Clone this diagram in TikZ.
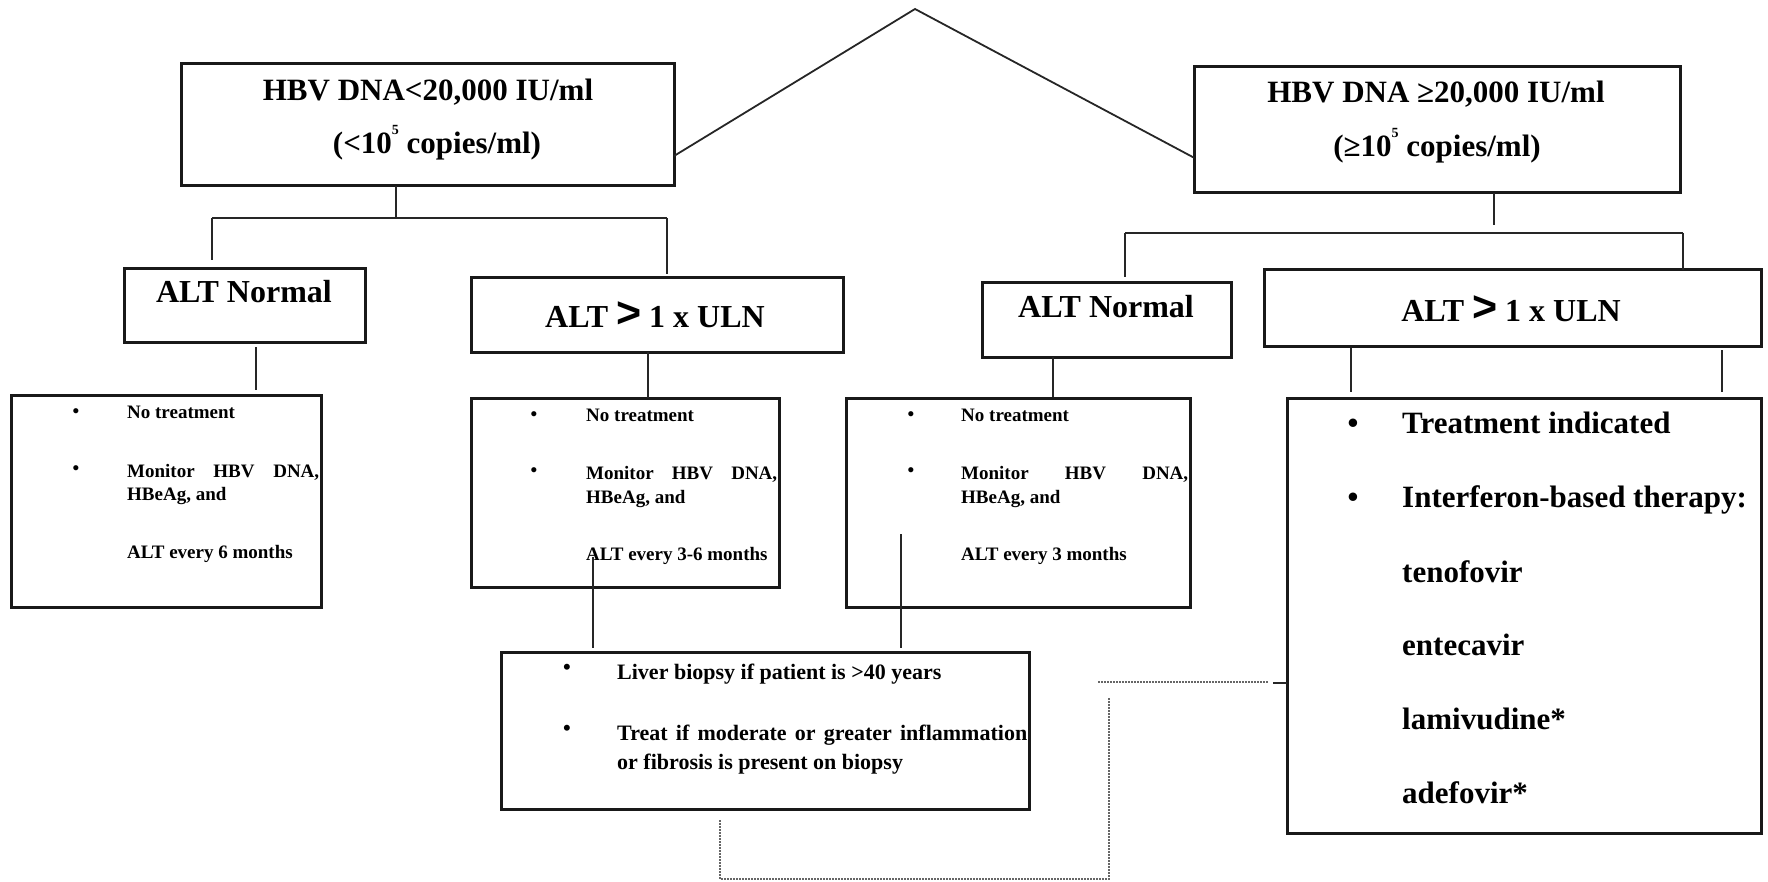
\documentclass[tikz,border=0pt]{standalone}
\usepackage{fontspec}
\setmainfont{Liberation Serif}
\setsansfont{Liberation Sans}
\usetikzlibrary{calc}
\newcommand{\bigGt}{{\sffamily\bfseries\fontsize{43}{43}\selectfont >}}
\newcommand{\supfive}{\raisebox{19pt}{\fontsize{14}{14}\selectfont 5}}
\begin{document}
\begin{tikzpicture}[x=1pt,y=-1pt,
  box/.style={draw=black!90, line width=3pt, inner sep=0pt, outer sep=0pt, anchor=north west},
  conn/.style={draw=black!85, line width=1.8pt},
  dots/.style={draw=black!60, line width=1.8pt, dash pattern=on 1.6pt off 1.4pt},
  big/.style={font=\fontsize{31}{36}\selectfont\bfseries, inner sep=0pt, anchor=base},
  alt/.style={font=\fontsize{32}{36}\selectfont\bfseries, inner sep=0pt, anchor=base},
  small/.style={font=\fontsize{19}{22}\selectfont\bfseries, inner sep=0pt, anchor=base west},
  mid/.style={font=\fontsize{22}{26}\selectfont\bfseries, inner sep=0pt, anchor=base west},
  large/.style={font=\fontsize{31}{36}\selectfont\bfseries, inner sep=0pt, anchor=base west},
  bul/.style={inner sep=0pt, anchor=base}
]
\useasboundingbox (0,0) rectangle (1768,882);

% boxes
\node[box, minimum width=493pt, minimum height=122pt] (b1) at (181,64) {};
\node[box, minimum width=486pt, minimum height=126pt] (b2) at (1194,67) {};
\node[box, minimum width=241pt, minimum height=73pt] (an1) at (124,269) {};
\node[box, minimum width=372pt, minimum height=74pt] (ag1) at (471,278) {};
\node[box, minimum width=249pt, minimum height=74pt] (an2) at (982,283) {};
\node[box, minimum width=497pt, minimum height=76pt] (ag2) at (1264,270) {};
\node[box, minimum width=310pt, minimum height=212pt] (bA) at (11,395) {};
\node[box, minimum width=308pt, minimum height=189pt] (bB) at (471,398) {};
\node[box, minimum width=344pt, minimum height=209pt] (bC) at (846,398) {};
\node[box, minimum width=474pt, minimum height=435pt] (bD) at (1287,398) {};
\node[box, minimum width=528pt, minimum height=157pt] (bE) at (501,652) {};

% top texts
\node[big] (t1a) at (428,101) {HBV DNA<20,000 IU/ml};
\node[big] (t1b) at (437,154) {(<10\supfive{} copies/ml)};
\node[big] (t2a) at (1436,103) {HBV DNA ≥20,000 IU/ml};
\node[big] (t2b) at (1437,157) {(≥10\supfive{} copies/ml)};
\node[alt] (tn1) at (244,303) {ALT Normal};
\node[alt] (tg1) at (655,327) {ALT \bigGt{} 1 x ULN};
\node[alt] (tn2) at (1106,317) {ALT Normal};
\node[alt] (tg2) at (1511,322) {ALT \bigGt{} 1 x ULN};

% box A
\node[small,bul] (aB1) at (76,417) {•};
\node[small] (a1) at (127,418) {No treatment};
\node[small,bul] (aB2) at (76,474) {•};
\node[small] (a2) at (127,477) {\hbox to 192pt{Monitor\hfill HBV\hfill DNA,}};
\node[small] (a3) at (127,500) {HBeAg, and};
\node[small] (a4) at (127,558) {ALT every 6 months};

% box B
\node[small,bul] (bB1) at (534,420) {•};
\node[small] (b1t) at (586,421) {No treatment};
\node[small,bul] (bB2) at (534,476) {•};
\node[small] (b2t) at (586,479) {\hbox to 191pt{Monitor\hfill HBV\hfill DNA,}};
\node[small] (b3t) at (586,503) {HBeAg, and};
\node[small] (b4t) at (586,560) {ALT every 3-6 months};

% box C
\node[small,bul] (cB1) at (911,420) {•};
\node[small] (c1) at (961,421) {No treatment};
\node[small,bul] (cB2) at (911,476) {•};
\node[small] (c2) at (961,479) {\hbox to 227pt{Monitor\hfill HBV\hfill DNA,}};
\node[small] (c3) at (961,503) {HBeAg, and};
\node[small] (c4) at (961,560) {ALT every 3 months};

% box E
\node[mid,bul] (eB1) at (567,674) {•};
\node[mid] (e1) at (617,679) {Liver biopsy if patient is >40 years};
\node[mid,bul] (eB2) at (567,735) {•};
\node[mid] (e2) at (617,740) {\hbox to 410pt{Treat\hfill if\hfill moderate\hfill or\hfill greater\hfill inflammation}};
\node[mid] (e3) at (617,769) {or fibrosis is present on biopsy};

% box D
\node[large,bul] (dB1) at (1353,433) {•};
\node[large] (d1) at (1402,433) {Treatment indicated};
\node[large,bul] (dB2) at (1353,507) {•};
\node[large] (d2) at (1402,507) {Interferon-based therapy:};
\node[large] (d3) at (1402,582) {tenofovir};
\node[large] (d4) at (1402,655) {entecavir};
\node[large] (d5) at (1402,729) {lamivudine*};
\node[large] (d6) at (1402,803) {adefovir*};

% apex lines
\coordinate (apex) at (915,9);
\draw[conn] ($(b1.north east)!0.754!(b1.south east)$) -- (apex) -- ($(b2.north west)!0.72!(b2.south west)$);

% left tree
\coordinate (j1) at (396,218);
\coordinate (j1l) at (212,218);
\coordinate (j1r) at (667,218);
\draw[conn] (b1.south -| j1) -- (j1);
\draw[conn] (j1l) -- (j1r);
\draw[conn, shorten >=9pt] (j1l) -- (an1.north -| j1l);
\draw[conn, shorten >=4pt] (j1r) -- (ag1.north -| j1r);

% right tree
\coordinate (k1) at (1494,225);
\coordinate (k1l) at (1125,233);
\coordinate (k1r) at (1683,233);
\draw[conn] (b2.south -| k1) -- (k1);
\draw[conn] (k1l) -- (k1r);
\draw[conn, shorten >=6pt] (k1l) -- (an2.north -| k1l);
\draw[conn] (k1r) -- (ag2.north -| k1r);

% down links
\coordinate (vA) at (256,0);
\coordinate (vB) at (648,0);
\coordinate (vC) at (1053,0);
\coordinate (vD1) at (1351,0);
\coordinate (vD2) at (1722,0);
\coordinate (vBE) at (593,557);
\coordinate (vCE) at (901,534);
\draw[conn, shorten <=5pt, shorten >=5pt] (an1.south -| vA) -- (bA.north -| vA);
\draw[conn] (ag1.south -| vB) -- (bB.north -| vB);
\draw[conn, shorten >=1pt] (an2.south -| vC) -- (bC.north -| vC);
\draw[conn, shorten <=2pt, shorten >=6pt] (ag2.south -| vD1) -- (bD.north -| vD1);
\draw[conn, shorten <=4pt, shorten >=6pt] (ag2.south -| vD2) -- (bD.north -| vD2);
\draw[conn, shorten >=4pt] (vBE) -- (bE.north -| vBE);
\draw[conn, shorten >=4pt] (vCE) -- (bE.north -| vCE);

% dotted links
\coordinate (dl) at (720,879);
\coordinate (dr) at (1109,879);
\coordinate (dtop) at (1109,698);
\draw[dots, shorten <=11pt] (bE.south -| dl) -- (dl) -- (dr) -- (dtop);
\coordinate (hs) at (1098,682);
\coordinate (he) at (1268,682);
\coordinate (tk) at (1273,683);
\draw[dots] (hs) -- (he);
\draw[conn] (tk) -- (bD.west |- tk);
\end{tikzpicture}
\end{document}
